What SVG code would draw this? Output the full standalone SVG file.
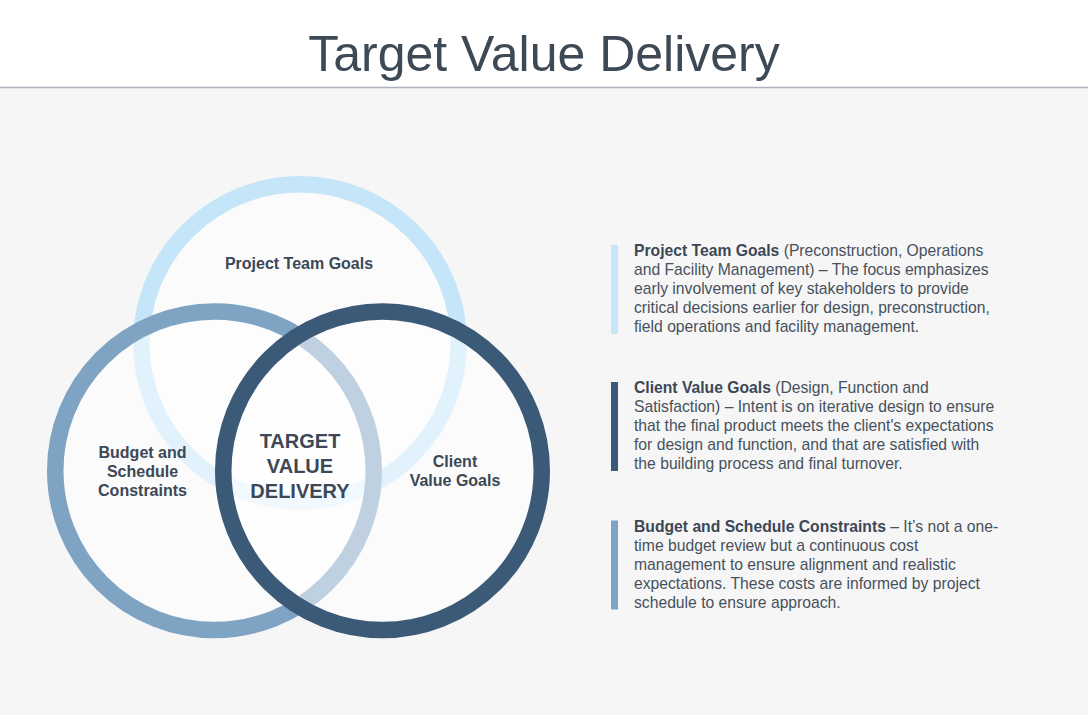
<svg xmlns="http://www.w3.org/2000/svg" width="1088" height="715" viewBox="0 0 1088 715">
<style>
.ring{fill:#ffffff;fill-opacity:0.5;stroke-width:16.5}
.lbl{font-family:"Liberation Sans",Arial,sans-serif;font-weight:bold;font-size:16px;fill:#3c4856;text-anchor:middle}
.ctr{font-family:"Liberation Sans",Arial,sans-serif;font-weight:bold;font-size:20px;fill:#3c4856;text-anchor:middle}
.body{font-family:"Liberation Sans",Arial,sans-serif;font-size:15.7px;fill:#46515c}
.b{font-weight:bold;fill:#3c4856}
</style>
<rect x="0" y="0" width="1088" height="715" fill="#f6f6f6"/>
<rect x="0" y="0" width="1088" height="87" fill="#ffffff"/>
<line x1="0" y1="87.5" x2="1088" y2="87.5" stroke="#abb4bd" stroke-width="1.5"/>
<text x="544" y="71" font-family="'Liberation Sans',Arial,sans-serif" font-size="50" fill="#3d4955" text-anchor="middle">Target Value Delivery</text>

<g id="node-project-team">
<circle class="ring" cx="300" cy="343" r="158.75" stroke="#c5e5f8"/>
</g>
<g id="node-budget">
<circle class="ring" cx="214.5" cy="470.75" r="159.25" stroke="#7fa3c2"/>
</g>
<g id="node-client">
<circle class="ring" cx="382.5" cy="470.75" r="159.25" stroke="#3b5a78"/>
</g>
<g id="connectors"></g>

<g id="labels-venn">
<text class="lbl" x="299" y="269">Project Team Goals</text>
<text class="lbl" x="142.5" y="457.5">Budget and</text>
<text class="lbl" x="142.5" y="476.5">Schedule</text>
<text class="lbl" x="142.5" y="495.5">Constraints</text>
<text class="lbl" x="455" y="467">Client</text>
<text class="lbl" x="455" y="486">Value Goals</text>
<text class="ctr" x="300" y="448">TARGET</text>
<text class="ctr" x="300" y="473">VALUE</text>
<text class="ctr" x="300" y="498">DELIVERY</text>
</g>

<g id="desc-project-team">
<rect x="611" y="245" width="7" height="89" fill="#c5e5f8"/>
<text class="body" x="634" y="255.5"><tspan class="b">Project Team Goals</tspan> (Preconstruction, Operations</text>
<text class="body" x="634" y="274.7">and Facility Management) – The focus emphasizes</text>
<text class="body" x="634" y="293.9">early involvement of key stakeholders to provide</text>
<text class="body" x="634" y="313.1">critical decisions earlier for design, preconstruction,</text>
<text class="body" x="634" y="332.3">field operations and facility management.</text>
</g>
<g id="desc-client">
<rect x="611" y="382" width="7" height="89" fill="#3b5a78"/>
<text class="body" x="634" y="392.5"><tspan class="b">Client Value Goals</tspan> (Design, Function and</text>
<text class="body" x="634" y="411.7">Satisfaction) – Intent is on iterative design to ensure</text>
<text class="body" x="634" y="430.9">that the final product meets the client's expectations</text>
<text class="body" x="634" y="450.1">for design and function, and that are satisfied with</text>
<text class="body" x="634" y="469.3">the building process and final turnover.</text>
</g>
<g id="desc-budget">
<rect x="611" y="520.5" width="7" height="89" fill="#7fa3c2"/>
<text class="body" x="634" y="531.5"><tspan class="b">Budget and Schedule Constraints</tspan> – It’s not a one-</text>
<text class="body" x="634" y="550.7">time budget review but a continuous cost</text>
<text class="body" x="634" y="569.9">management to ensure alignment and realistic</text>
<text class="body" x="634" y="589.1">expectations. These costs are informed by project</text>
<text class="body" x="634" y="608.3">schedule to ensure approach.</text>
</g>
</svg>
